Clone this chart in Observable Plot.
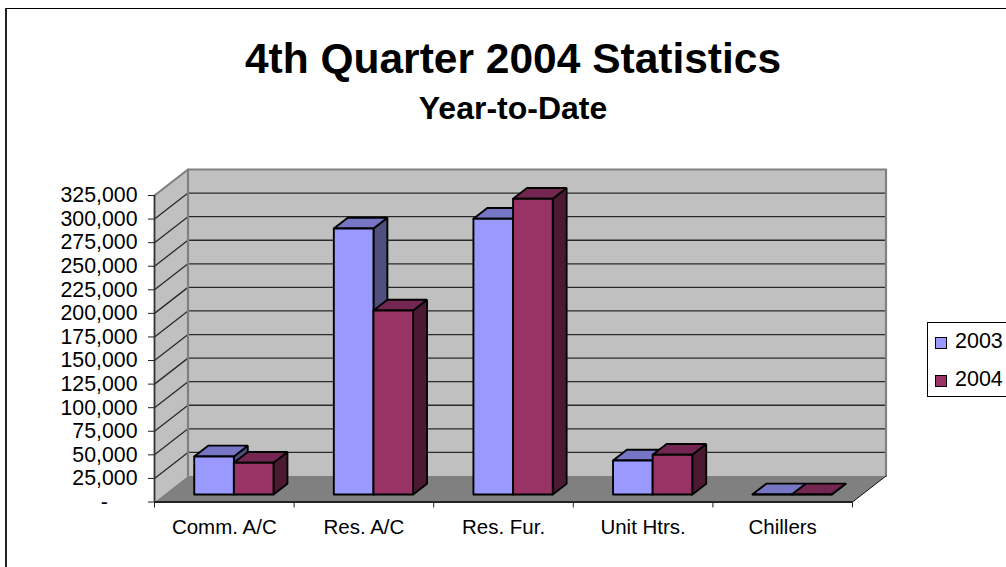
<!DOCTYPE html>
<html>
<head>
<meta charset="utf-8">
<script src="https://cdn.jsdelivr.net/npm/d3@7"></script>
<script src="https://cdn.jsdelivr.net/npm/@observablehq/plot@0.6"></script>
<style>
  html, body { margin: 0; padding: 0; background: #fff; overflow: hidden; }
  body { width: 1006px; height: 567px; position: relative; font-family: "Liberation Sans", Arial, sans-serif; color: #000; }
  #frame { position: absolute; left: 5px; top: 8px; width: 1100px; height: 700px; border-left: 2px solid #222; border-top: 1.5px solid #000; }
  #chart { position: absolute; left: 0; top: 0; }
  #title { position: absolute; left: 0; width: 1026px; top: 35px; text-align: center; font-weight: bold; font-size: 42.5px; line-height: 48px; }
  #subtitle { position: absolute; left: 0; width: 1026px; top: 90px; text-align: center; font-weight: bold; font-size: 32px; line-height: 36px; }
  #legend { position: absolute; left: 927px; top: 322px; width: 100px; height: 75px; border: 1px solid #000; background: #fff; box-sizing: border-box; }
  .row { position: absolute; left: 7px; font-size: 21.5px; line-height: 24px; white-space: nowrap; }
  .sw { display: inline-block; width: 10px; height: 10px; border: 1.5px solid #000; margin-right: 8px; vertical-align: -0.5px; }
</style>
</head>
<body>
<div id="frame"></div>
<div id="chart"></div>
<div id="title">4th Quarter 2004 Statistics</div>
<div id="subtitle">Year-to-Date</div>
<div id="legend"></div>
<script>
const categories = ["Comm. A/C", "Res. A/C", "Res. Fur.", "Unit Htrs.", "Chillers"];
const seriesNames = ["2003", "2004"];
const values2003 = [40300, 282000, 292300, 36000, 100];
const values2004 = [33600, 195100, 313500, 42100, 100];
const yTicks = d3.range(0, 325001, 25000);
const xTicks = [0, 1, 2, 3, 4, 5];

const faceColors = [
  {front: "#9999ff", top: "#7676c4", side: "#4f4f80"},
  {front: "#993366", top: "#732650", side: "#4c1933"}
];

// oblique projection: depth 0..1 sheared in data units
const depthX = 33.5 / 139.6, depthY = 27570;
const proj = (c, v, d) => ({x: c + d * depthX, y: v + d * depthY});
const barGap = 0.215, barW = 0.284, d0 = 0.29, d1 = 0.705;

let nextId = 0;
const poly = (pts, fill) => { const id = nextId++; return [...pts, pts[0]].map(p => ({id, fill, ...proj(...p)})); };

const xMax = 5, yMax = 325000;
const walls = [
  ...poly([[0,0,0],[0,yMax,0],[0,yMax,1],[0,0,1]], "#c0c0c0"),
  ...poly([[0,0,1],[0,yMax,1],[xMax,yMax,1],[xMax,0,1]], "#c0c0c0"),
  ...poly([[0,0,0],[xMax,0,0],[xMax,0,1],[0,0,1]], "#808080")
];
const grid = yTicks.filter(v => v > 0 && v < yMax).flatMap(v =>
  [[0,v,0],[0,v,1],[xMax,v,1]].map(p => ({v, ...proj(...p)})));
const edgeLine = [[0,yMax,0],[0,yMax,1],[xMax,yMax,1],[xMax,0,1]].map(p => proj(...p));
const edgeLine2 = [[0,yMax,1],[0,0,1]].map(p => proj(...p));
const floorRight = [[xMax,0,0],[xMax,0,1]].map(p => proj(...p));

const boxes = [];
categories.forEach((_, i) => {
  [values2003, values2004].forEach((vals, s) => {
    const a = i + barGap + s * barW, b = a + barW, v = vals[i], col = faceColors[s];
    boxes.push(...poly([[b,0,d0],[b,v,d0],[b,v,d1],[b,0,d1]], col.side));
    boxes.push(...poly([[a,v,d0],[b,v,d0],[b,v,d1],[a,v,d1]], col.top));
    boxes.push(...poly([[a,0,d0],[b,0,d0],[b,v,d0],[a,v,d0]], col.front));
  });
});

const labels = categories.map((name, i) => ({name, x: i + 0.5}));

const plot = Plot.plot({
  width: 1006, height: 567,
  marginLeft: 154, marginRight: 154, marginTop: 195, marginBottom: 65.5,
  x: {type: "linear", domain: [0, xMax]},
  y: {type: "linear", domain: [0, yMax]},
  style: {fontFamily: "'Liberation Sans', Arial, sans-serif", background: "transparent", color: "#000", overflow: "visible"},
  marks: [
    Plot.line(walls, {x: "x", y: "y", z: "id", fill: "fill", stroke: "none"}),
    Plot.line(grid, {x: "x", y: "y", z: "v", stroke: "#2a2a2a", strokeWidth: 1.3}),
    Plot.line(edgeLine, {x: "x", y: "y", stroke: "#808080", strokeWidth: 2.2}),
    Plot.line(edgeLine2, {x: "x", y: "y", stroke: "#808080", strokeWidth: 2.2}),
    Plot.line(floorRight, {x: "x", y: "y", stroke: "#111", strokeWidth: 1}),
    Plot.line(boxes, {x: "x", y: "y", z: "id", fill: "fill", stroke: "#000", strokeWidth: 1.9, strokeLinejoin: "miter"}),
    Plot.ruleY([0], {stroke: "#222", strokeWidth: 1.8}),
    Plot.ruleX([0], {y1: 0, y2: yMax, stroke: "#333", strokeWidth: 1.8}),
    Plot.axisY({
      ticks: yTicks, tickSize: 6, tickPadding: 11, fontSize: 21.3, label: null, anchor: "left",
      stroke: "#222",
      tickFormat: v => v === 0 ? "-\u00a0\u00a0\u00a0\u00a0\u00a0" : d3.format(",")(v)
    }),
    Plot.axisX({ticks: xTicks, tickSize: 6, tickFormat: () => "", label: null, anchor: "bottom", stroke: "#222"}),
    Plot.text(labels, {x: "x", y: () => 0, text: "name", dy: 25.5, fontSize: 20.5, fill: "#000"})
  ]
});
document.getElementById("chart").appendChild(plot);

const legend = document.getElementById("legend");
seriesNames.forEach((name, i) => {
  const row = document.createElement("div");
  row.className = "row";
  row.style.top = (6 + i * 38) + "px";
  const sw = document.createElement("span");
  sw.className = "sw";
  sw.style.background = faceColors[i].front;
  row.append(sw, name);
  legend.appendChild(row);
});
</script>
</body>
</html>
